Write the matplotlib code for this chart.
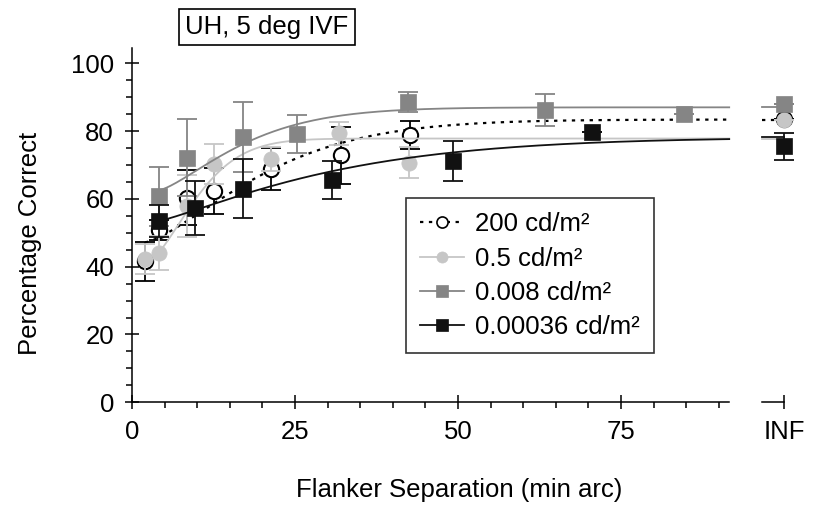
import matplotlib.pyplot as plt
import numpy as np
from matplotlib.lines import Line2D

plt.rcParams["font.family"] = ["Liberation Sans", "DejaVu Sans"]

# flanker separation (min arc) vs percentage correct, one set per luminance
labels = ["200 cd/m²", "0.5 cd/m²", "0.008 cd/m²", "0.00036 cd/m²"]

sep_200 = [2.0, 4.1, 8.5, 12.6, 21.3, 32.0, 42.7]
pc_200 = [41.6, 50.8, 60.4, 62.3, 68.8, 72.9, 78.9]
err_200 = [5.8, 3.0, 8.0, 6.8, 6.2, 8.4, 4.2]

sep_05 = [2.0, 4.2, 8.4, 12.6, 21.3, 31.7, 42.5]
pc_05 = [42.2, 44.1, 57.9, 70.3, 71.8, 79.3, 70.7]
err_05 = [4.4, 5.0, 9.0, 6.0, 3.5, 3.3, 4.6]

sep_008 = [4.2, 8.4, 17.0, 25.3, 42.4, 63.4, 84.6]
pc_008 = [60.7, 72.2, 78.3, 79.1, 88.5, 86.2, 85.0]
err_008 = [8.8, 11.3, 10.4, 5.5, 2.9, 4.8, 0.0]

sep_00036 = [4.1, 9.7, 17.1, 30.6, 49.2, 70.6]
pc_00036 = [53.5, 57.4, 63.0, 65.6, 71.2, 79.8]
err_00036 = [4.7, 8.0, 8.7, 5.6, 5.9, 0.0]

# unflanked (INF) condition
inf_pc = [83.5, 83.4, 87.9, 75.5]
inf_err = [0.0, 0.0, 0.0, 4.0]

# fitted curves (Weibull-type rise to a plateau)
fit_start = [2.0, 2.0, 4.2, 4.1]
fit_base = [47.2, 41.0, 62.6, 53.5]
fit_top = [83.4, 77.8, 87.0, 78.2]
fit_scale = [21.0, 9.5, 15.0, 29.0]
fit_shape = [1.4, 1.6, 1.35, 1.2]

xticks = [0, 25, 50, 75, 100]
xticklabels = ["0", "25", "50", "75", "INF"]

AXIS_END = 91.6
INF_POS = 100
FS = 18.5

seps = [sep_200, sep_05, sep_008, sep_00036]
pcs = [pc_200, pc_05, pc_008, pc_00036]
errs = [err_200, err_05, err_008, err_00036]

colors = ["black", "#c6c6c6", "#858585", "#111111"]
faces = ["white", "#c6c6c6", "#858585", "#111111"]
markers = ["o", "o", "s", "s"]
styles = [(0, (1.5, 2.5)), "-", "-", "-"]

fig = plt.figure(figsize=(8.23, 5.09), dpi=100)
ax = fig.add_axes([132 / 823, 1 - 402.3 / 509, 665 / 823, 356 / 509])

handles = []
for i in range(4):
    z = 2 + i
    x0, y0, top = fit_start[i], fit_base[i], fit_top[i]
    xs = np.linspace(x0, AXIS_END, 300)
    ys = y0 + (top - y0) * (1 - np.exp(-(((xs - x0) / fit_scale[i]) ** fit_shape[i])))
    lw = 1.6 if i == 0 else 1.3
    ax.plot(xs, ys, color=colors[i], lw=lw, linestyle=styles[i], zorder=z)
    ax.plot([96.7, INF_POS], [top, top], color=colors[i], lw=lw,
            linestyle=styles[i], zorder=z, clip_on=False)

    xe = seps[i] + [INF_POS]
    ye = pcs[i] + [inf_pc[i]]
    ee = errs[i] + [inf_err[i]]
    ax.errorbar(xe, ye, yerr=ee, fmt="none", ecolor=colors[i], elinewidth=1.3,
                capsize=7, capthick=1.3, zorder=z, clip_on=False)
    ax.plot(xe, ye, linestyle="none", marker=markers[i], markersize=11,
            markerfacecolor=faces[i], markeredgecolor=colors[i],
            markeredgewidth=1.5 if i == 0 else 0.5, zorder=z + 0.5, clip_on=False)

    handles.append(Line2D([], [], color=colors[i], lw=lw, linestyle=styles[i],
                          marker=markers[i], markersize=8, markerfacecolor=faces[i],
                          markeredgecolor=colors[i],
                          markeredgewidth=1.2 if i == 0 else 0.5))

ax.set_xlim(0, 102)
ax.set_ylim(0, 105)

for side in ["top", "right"]:
    ax.spines[side].set_visible(False)
ax.spines["bottom"].set_bounds(0, AXIS_END)
ax.spines["left"].set_bounds(0, 104.5)
ax.spines["bottom"].set_linewidth(1.1)
ax.spines["left"].set_linewidth(1.1)
# short axis piece for the INF column
ax.plot([96.7, INF_POS], [0, 0], color="black", lw=1.1, clip_on=False, zorder=1)

ax.set_xticks(xticks)
ax.set_xticklabels(xticklabels)
ax.set_xticks(np.arange(5, 91, 5), minor=True)
ax.set_yticks([0, 20, 40, 60, 80, 100])
ax.set_yticks(np.arange(5, 101, 5), minor=True)
ax.tick_params(which="major", direction="inout", length=10, width=1.1,
               labelsize=FS, pad=8)
ax.tick_params(which="minor", direction="out", length=4, width=1.1)

fig.text(30 / 823, 1 - 243 / 509, "Percentage Correct", rotation=90,
         ha="center", va="center", fontsize=FS)
fig.text(459 / 823, 1 - 490 / 509, "Flanker Separation (min arc)",
         ha="center", va="center", fontsize=FS)
fig.text(267 / 823, 1 - 27 / 509, "UH, 5 deg IVF", ha="center", va="center",
         fontsize=FS, bbox=dict(boxstyle="square,pad=0.25", fc="white",
                                ec="black", lw=1.2))

leg = ax.legend(handles, labels, loc="upper left",
                bbox_to_anchor=(406 / 823, 1 - 198.3 / 509),
                bbox_transform=fig.transFigure, fontsize=FS, frameon=True,
                fancybox=False, edgecolor="black", handlelength=1.7,
                handletextpad=0.45, labelspacing=0.4, borderpad=0.55,
                borderaxespad=0)
leg.get_frame().set_linewidth(1.2)

fig.savefig("out.png", dpi=100)
